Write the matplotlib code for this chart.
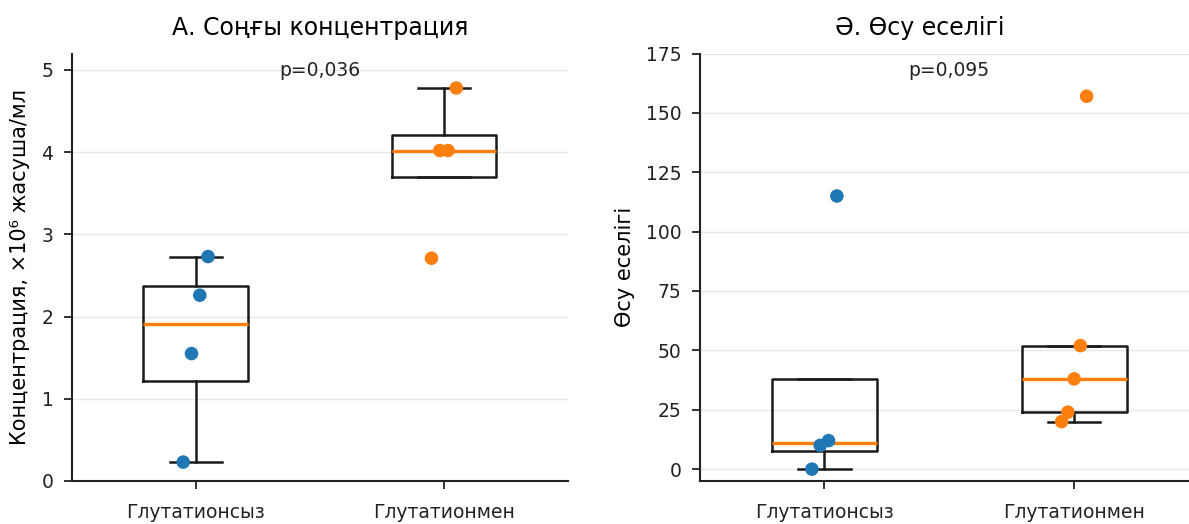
import matplotlib.pyplot as plt
import numpy as np

groups = ["Глутатионсыз", "Глутатионмен"]

# A. final concentration, x10^6 cells/ml
conc_without = [0.23, 1.55, 2.26, 2.73]
conc_with = [2.71, 4.02, 4.02, 4.78]

# Ә. growth fold
fold_without = [0.0, 10.0, 12.0, 115.0]
fold_with = [20.0, 24.0, 38.0, 52.0, 157.0]

p_values = ["p=0,036", "p=0,095"]
titles = ["А. Соңғы концентрация", "Ә. Өсу еселігі"]
ylabels = ["Концентрация, ×10⁶ жасуша/мл", "Өсу еселігі"]
colors = ["#1f77b4", "#ff7f0e"]

plt.rcParams["font.family"] = ["DejaVu Sans"]

fig = plt.figure(figsize=(11.89, 5.24), dpi=100)
W, H = 1189, 524
ax1 = fig.add_axes([71.5 / W, (H - 481) / H, 496.5 / W, 427.5 / H])
ax2 = fig.add_axes([699.5 / W, (H - 481) / H, 499.5 / W, 427.5 / H])


def draw_panel(ax, data, title, ylabel, ptext, ylim, yticks, title_x):
    ax.boxplot(
        data,
        positions=[0, 1],
        widths=0.42,
        showfliers=False,
        patch_artist=False,
        boxprops=dict(color="#1a1a1a", linewidth=1.8),
        whiskerprops=dict(color="#1a1a1a", linewidth=1.8),
        capprops=dict(color="#1a1a1a", linewidth=1.8),
        medianprops=dict(color="#ff7f0e", linewidth=2.4),
    )
    for i, vals in enumerate(data):
        vals = np.sort(vals)
        offs = np.linspace(-0.05, 0.05, len(vals))
        ax.scatter(i + offs, vals, s=95, color=colors[i], zorder=3, edgecolors="none")
    ax.set_xlim(-0.5, 1.5)
    ax.set_ylim(*ylim)
    ax.set_yticks(yticks)
    ax.set_xticks([0, 1])
    ax.set_xticklabels(groups)
    ax.grid(axis="y", color="#e8e8e8", linewidth=1.0)
    ax.set_axisbelow(True)
    for s in ["top", "right"]:
        ax.spines[s].set_visible(False)
    for s in ["left", "bottom"]:
        ax.spines[s].set_linewidth(1.5)
        ax.spines[s].set_color("#222222")
    ax.tick_params(labelsize=13.5, length=5.5, width=1.3, colors="#222222")
    ax.tick_params(axis="y", pad=7.5)
    ax.tick_params(axis="x", pad=10)
    ax.set_title(title, fontsize=17, pad=13, x=title_x)
    ax.set_ylabel(ylabel, fontsize=15, labelpad=8)
    ax.text(0.5, 0.96, ptext, transform=ax.get_xaxis_transform(),
            ha="center", va="center", fontsize=13.5, color="#222222")


draw_panel(ax1, [conc_without, conc_with], titles[0], ylabels[0], p_values[0],
           (0, 5.2), [0, 1, 2, 3, 4, 5], 0.5)
draw_panel(ax2, [fold_without, fold_with], titles[1], ylabels[1], p_values[1],
           (-5, 175), [0, 25, 50, 75, 100, 125, 150, 175], 0.44)

fig.savefig("out.png", dpi=100)
